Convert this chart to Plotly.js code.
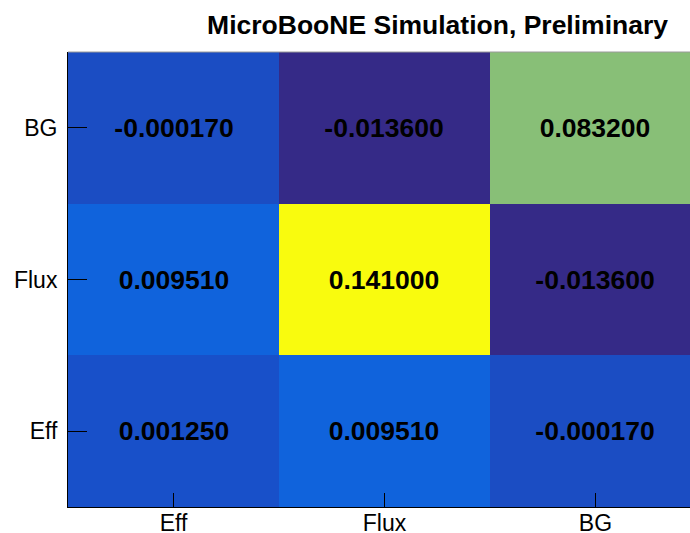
<!DOCTYPE html>
<html>
<head>
<meta charset="utf-8">
<script src="https://cdn.plot.ly/plotly-3.0.1.min.js"></script>
<style>html,body{margin:0;padding:0;background:#fff;overflow:hidden;}</style>
</head>
<body>
<div id="chart" style="width:690px;height:533px;"></div>
<script>
// Categories (x: columns, y: rows from bottom to top)
var xLabels = ["Eff", "Flux", "BG"];
var yLabels = ["Eff", "Flux", "BG"];
// Matrix values, one array per row (bottom to top)
var rowEff  = [0.00125, 0.00951, -0.00017];
var rowFlux = [0.00951, 0.141, -0.0136];
var rowBG   = [-0.00017, -0.0136, 0.0832];
var zValues = [rowEff, rowFlux, rowBG];

// ROOT kBird palette
var birdStops = [0, 0.125, 0.25, 0.375, 0.5, 0.625, 0.75, 0.875, 1];
var birdR = [0.2082, 0.0592, 0.0780, 0.0232, 0.1802, 0.5301, 0.8186, 0.9956, 0.9764];
var birdG = [0.1664, 0.3599, 0.5041, 0.6419, 0.7178, 0.7492, 0.7328, 0.7862, 0.9832];
var birdB = [0.5293, 0.8684, 0.8385, 0.7914, 0.6425, 0.4662, 0.3499, 0.1968, 0.0539];
var colorscale = birdStops.map(function (s, i) {
  return [s, 'rgb(' + Math.round(birdR[i] * 255) + ',' + Math.round(birdG[i] * 255) + ',' + Math.round(birdB[i] * 255) + ')'];
});

var allVals = [].concat.apply([], zValues);
var zmin = Math.min.apply(null, allVals);
var zmax = Math.max.apply(null, allVals);

var trace = {
  type: 'heatmap',
  x: [0, 1, 2],
  y: [0, 1, 2],
  z: zValues,
  colorscale: colorscale,
  zmin: zmin,
  zmax: zmax,
  showscale: false,
  texttemplate: '%{z:.6f}',
  textfont: {family: 'Liberation Sans, Arial, sans-serif', size: 26.5, color: '#000000', weight: 'bold'},
  hoverinfo: 'skip'
};

var layout = {
  width: 690,
  height: 533,
  margin: {l: 68, r: 0, t: 52, b: 26, pad: 0},
  paper_bgcolor: '#ffffff',
  plot_bgcolor: '#ffffff',
  font: {family: 'Liberation Sans, Arial, sans-serif', color: '#000000'},
  title: {
    text: 'MicroBooNE Simulation, Preliminary',
    font: {family: 'Liberation Sans, Arial, sans-serif', size: 26.5, color: '#000000', weight: 'bold'},
    xref: 'container', yref: 'container',
    x: 668 / 690, xanchor: 'right',
    y: 1 - 25 / 533, yanchor: 'middle'
  },
  xaxis: {
    range: [-0.5, 2.448],
    tickvals: [0, 1, 2],
    ticktext: xLabels,
    ticks: 'inside',
    ticklen: 14,
    tickwidth: 1,
    tickcolor: '#000000',
    ticklabelstandoff: -5,
    showline: true,
    linecolor: '#000000',
    linewidth: 1,
    showgrid: false,
    zeroline: false,
    tickfont: {size: 23, color: '#000000'},
    fixedrange: true
  },
  yaxis: {
    range: [-0.5, 2.5],
    tickvals: [0, 1, 2],
    ticktext: yLabels,
    ticks: 'inside',
    ticklen: 19,
    tickwidth: 1,
    tickcolor: '#000000',
    ticklabelstandoff: 5,
    showline: true,
    linecolor: '#000000',
    linewidth: 1,
    showgrid: false,
    zeroline: false,
    tickfont: {size: 23, color: '#000000'},
    fixedrange: true
  },
  shapes: [{
    type: 'line', xref: 'paper', yref: 'paper', x0: 0, x1: 1, y0: 1, y1: 1,
    line: {color: '#9a9a9a', width: 1}, layer: 'above'
  }]
};

Plotly.newPlot('chart', [trace], layout, {displayModeBar: false, staticPlot: true});
</script>
</body>
</html>
